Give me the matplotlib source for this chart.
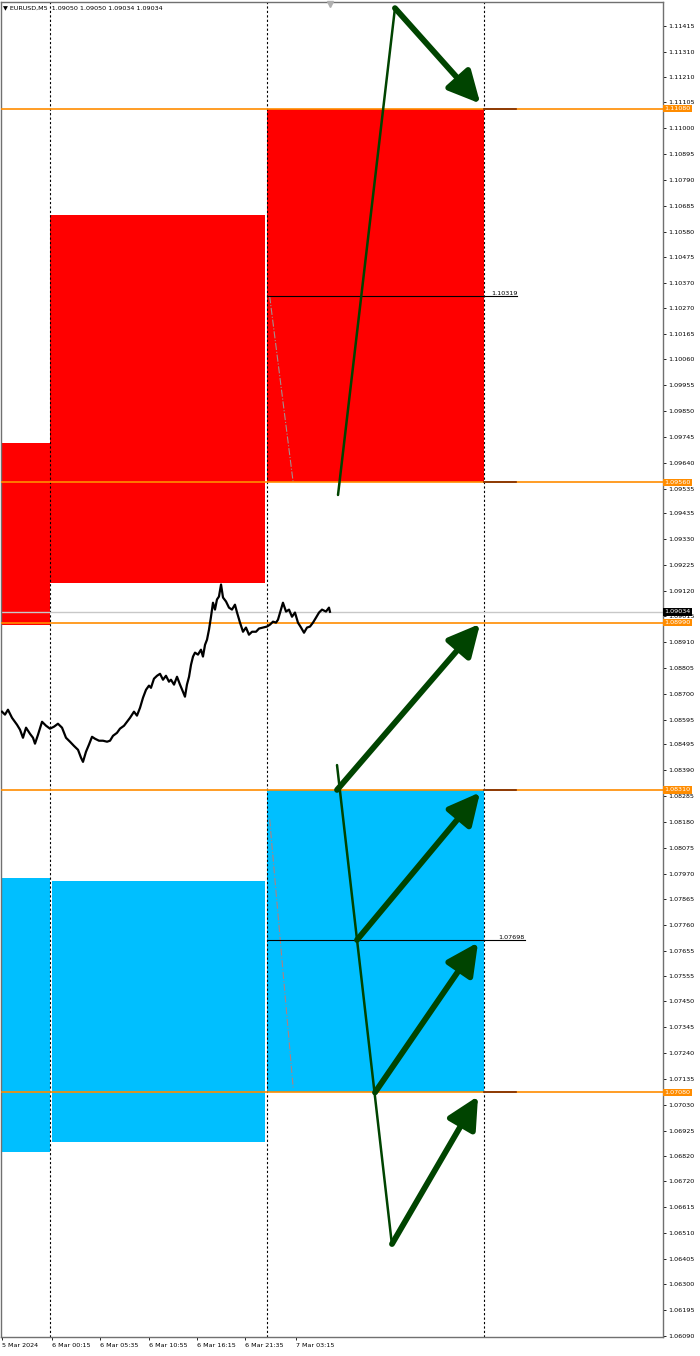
import matplotlib
matplotlib.use("Agg")
import matplotlib.pyplot as plt
from matplotlib.patches import Rectangle
from matplotlib.transforms import blended_transform_factory

plt.rcParams['font.family'] = ['DejaVu Sans']

# time axis in hours from 6 Mar 2024 00:00 (M5 chart)
hours = [-5.31, -4.98, -4.65, -4.20, -3.65, -3.32, -2.99, -2.65, -2.21, -1.88, -1.66, -1.33, -0.88, -0.44,
         0.00, 0.44, 0.88, 1.33, 1.77, 2.21, 2.65, 3.10, 3.43, 3.65, 3.98, 4.31, 4.65, 4.98, 5.42, 5.86,
         6.31, 6.64, 6.97, 7.41, 7.74, 8.19, 8.52, 8.85, 9.29, 9.62, 9.96, 10.29, 10.62, 10.95, 11.17,
         11.50, 11.84, 12.17, 12.50, 12.83, 13.16, 13.38, 13.72, 14.05, 14.38, 14.71, 14.93, 15.15, 15.38,
         15.60, 15.82, 16.04, 16.37, 16.70, 16.92, 17.15, 17.37, 17.59, 17.81, 18.03, 18.25, 18.47, 18.69,
         18.92, 19.14, 19.47, 19.80, 20.13, 20.46, 20.69, 21.02, 21.35, 21.68, 22.01, 22.35, 22.79, 23.12,
         23.56, 24.00, 24.34, 24.67, 25.00, 25.22, 25.77, 26.11, 26.44, 26.77, 27.10, 27.43, 27.77, 28.10,
         28.43, 28.76, 29.09, 29.42, 29.76, 30.09, 30.53, 30.86, 30.97]
closes = [1.08628, 1.08616, 1.08636, 1.08603, 1.08575, 1.08555, 1.08522, 1.08563, 1.08538, 1.08522,
          1.08498, 1.08534, 1.08587, 1.08571, 1.08559, 1.08567, 1.08579, 1.08563, 1.08522, 1.08506,
          1.08489, 1.08473, 1.08441, 1.08424, 1.08465, 1.08494, 1.08526, 1.08518, 1.08510, 1.08510,
          1.08506, 1.08510, 1.08530, 1.08542, 1.08559, 1.08571, 1.08587, 1.08603, 1.08628, 1.08612,
          1.08644, 1.08685, 1.08717, 1.08734, 1.08725, 1.08762, 1.08774, 1.08782, 1.08758, 1.08774,
          1.08750, 1.08758, 1.08738, 1.08770, 1.08738, 1.08709, 1.08689, 1.08738, 1.08770, 1.08819,
          1.08852, 1.08868, 1.08860, 1.08880, 1.08852, 1.08900, 1.08921, 1.08962, 1.09014, 1.09071,
          1.09043, 1.09084, 1.09096, 1.09145, 1.09092, 1.09076, 1.09051, 1.09043, 1.09063, 1.09031,
          1.08990, 1.08953, 1.08970, 1.08941, 1.08953, 1.08953, 1.08966, 1.08970, 1.08974, 1.08982,
          1.08994, 1.08990, 1.09002, 1.09071, 1.09035, 1.09043, 1.09014, 1.09031, 1.08990, 1.08970,
          1.08949, 1.08970, 1.08974, 1.08990, 1.09010, 1.09031, 1.09043, 1.09035, 1.09051, 1.09034]

# supply / demand zones
zone_start = [-8, 0, 24, -8, 0.2, 24]
zone_end = [0, 23.8, 48, 0, 23.8, 48]
zone_top = [1.09720, 1.10647, 1.11080, 1.07952, 1.07940, 1.08310]
zone_bottom = [1.08980, 1.09151, 1.09560, 1.06838, 1.06878, 1.07080]
zone_color = ['#FF0000', '#FF0000', '#FF0000', '#00BFFF', '#00BFFF', '#00BFFF']

levels = [1.11080, 1.09560, 1.08990, 1.08310, 1.07080]
level_labels = ['1.11080', '1.09560', '1.08990', '1.08310', '1.07080']
bid = 1.09034

mid_levels = [1.10319, 1.07698]
mid_end = [51.7, 52.5]

separators = [0, 24, 48]

# arrows: (start hour, start price, end hour, end price)
thin_lines = [(31.86, 1.09509, 38.16, 1.11488), (31.75, 1.08411, 37.83, 1.06460)]
arrows = [(38.16, 1.11488, 47.6, 1.11100), (31.75, 1.08310, 47.57, 1.08985),
          (33.96, 1.07700, 47.57, 1.08300), (35.95, 1.07080, 47.35, 1.07690),
          (37.83, 1.06464, 47.35, 1.07065)]
guides = [(24.3, 1.10317, 26.9, 1.09560, '#a09090'), (24.3, 1.08190, 26.9, 1.07100, '#b08080')]

ytick_vals = [1.11415, 1.11310, 1.11210, 1.11105, 1.11000, 1.10895, 1.10790, 1.10685, 1.10580, 1.10475,
              1.10370, 1.10270, 1.10165, 1.10060, 1.09955, 1.09850, 1.09745, 1.09640, 1.09535, 1.09435,
              1.09330, 1.09225, 1.09120, 1.09015, 1.08910, 1.08805, 1.08700, 1.08595, 1.08495, 1.08390,
              1.08285, 1.08180, 1.08075, 1.07970, 1.07865, 1.07760, 1.07655, 1.07555, 1.07450, 1.07345,
              1.07240, 1.07135, 1.07030, 1.06925, 1.06820, 1.06720, 1.06615, 1.06510, 1.06405, 1.06300,
              1.06195, 1.06090]
xtick_vals = [-5.31, 0.25, 5.58, 10.92, 16.25, 21.58, 27.25]
xtick_labels = ['5 Mar 2024', '6 Mar 00:15', '6 Mar 05:35', '6 Mar 10:55', '6 Mar 16:15',
                '6 Mar 21:35', '7 Mar 03:15']

fs = 4.6

fig = plt.figure(figsize=(7, 13.56), dpi=100)
ax = fig.add_axes([1 / 700, 19 / 1356, 662 / 700, 1335 / 1356])
ax.set_xlim(-5.42, 67.81)
ax.set_ylim(1.06086, 1.11513)

for s, e, t, b, c in zip(zone_start, zone_end, zone_top, zone_bottom, zone_color):
    ax.add_patch(Rectangle((s, b), e - s, t - b, facecolor=c, edgecolor='none', zorder=1))

for sx in separators:
    ax.axvline(sx, color='black', lw=0.8, ls=(0, (2, 2)), zorder=2)

for x0, y0, x1, y1, c in guides:
    ax.plot([x0, x1], [y0, y1], color=c, lw=0.8, ls='-.', zorder=2)

ax.axhline(bid, color='#c8c8c8', lw=1, zorder=2)
for lv in levels:
    ax.axhline(lv, color='#FF8C00', lw=1.2, zorder=3)
    if lv != 1.08990:
        ax.plot([48, 51.5], [lv, lv], color='#7a2a00', lw=1.2, zorder=3)

for lv, xe in zip(mid_levels, mid_end):
    ax.plot([24, xe], [lv, lv], color='black', lw=0.8, zorder=3)
    ax.text(xe, lv, '%.5f' % lv, fontsize=fs, ha='right', va='bottom', zorder=4)

ax.plot(hours, closes, color='black', lw=1.6, zorder=4)

green = '#004400'
for x0, y0, x1, y1 in thin_lines:
    ax.plot([x0, x1], [y0, y1], color=green, lw=1.8, solid_capstyle='round', zorder=5)
for x0, y0, x1, y1 in arrows:
    ax.annotate('', xy=(x1, y1), xytext=(x0, y0),
                arrowprops=dict(arrowstyle='-|>', color=green, lw=4.2, mutation_scale=48,
                                shrinkA=0, shrinkB=0, capstyle='round'),
                zorder=6)

# axes styling
for sp in ax.spines.values():
    sp.set_color('#707070')
    sp.set_linewidth(1)
ax.yaxis.tick_right()
ax.set_yticks(ytick_vals)
ax.set_yticklabels(['%.5f' % v for v in ytick_vals])
ax.tick_params(axis='y', length=2.2, width=0.6, pad=1.5, labelsize=fs, colors='black')
ax.set_xticks(xtick_vals)
ax.set_xticklabels(xtick_labels, ha='left')
ax.tick_params(axis='x', length=2, width=0.6, pad=2, labelsize=fs, colors='black')

tr = blended_transform_factory(ax.transAxes, ax.transData)
for lv, lab in zip(levels, level_labels):
    ax.text(1.002, lv, lab, transform=tr, fontsize=fs, color='white', ha='left', va='center',
            bbox=dict(boxstyle='square,pad=0.2', fc='#FF8C00', ec='none'), clip_on=False, zorder=10)
ax.text(1.002, bid, '%.5f' % bid, transform=tr, fontsize=fs, color='white', ha='left', va='center',
        bbox=dict(boxstyle='square,pad=0.2', fc='black', ec='none'), clip_on=False, zorder=11)

ax.text(0.003, 0.9955, '\u25bc EURUSD,M5  1.09050 1.09050 1.09034 1.09034', transform=ax.transAxes,
        fontsize=fs, ha='left', va='center', zorder=10)
ax.plot([30.97], [1.11505], marker='v', color='#b0b0b0', markersize=4, clip_on=False, zorder=10)

fig.savefig('out.png', dpi=100, facecolor='white')
